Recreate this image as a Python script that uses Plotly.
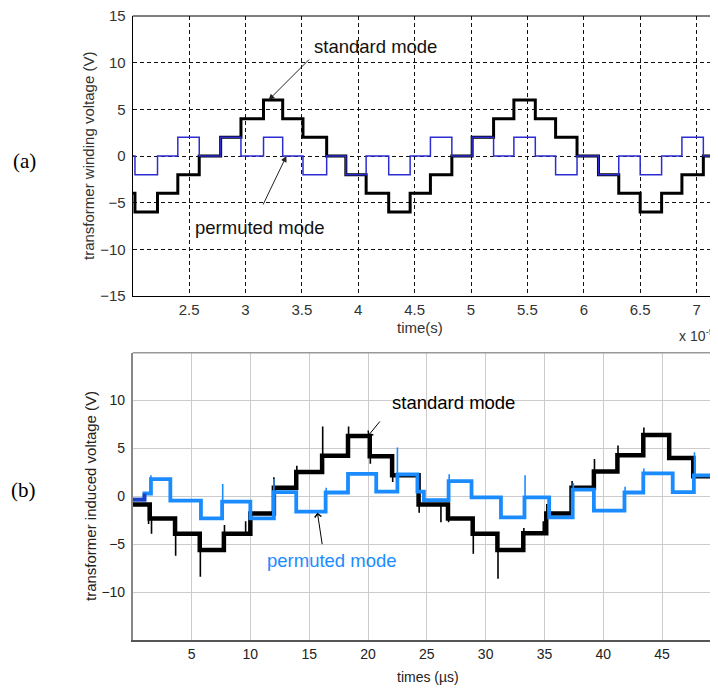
import plotly.graph_objects as go

# page has an 8px body margin: figure origin sits at page (8, 8)
OFF = 8
W, H = 718 - OFF, 688 - OFF

# ---------------- (a) simulation ----------------
a_step_t = [2.0, 2.02, 2.22, 2.40, 2.59, 2.78, 2.96, 3.16, 3.33, 3.51, 3.72, 3.89, 4.07,
            4.27, 4.46, 4.64, 4.83, 5.01, 5.20, 5.38, 5.57, 5.75, 5.94, 6.13, 6.31, 6.50,
            6.69, 6.87, 7.06]
a_standard = [-4, -6, -4, -2, 0, 2, 4, 6, 4, 2, 0, -2, -4,
              -6, -4, -2, 0, 2, 4, 6, 4, 2, 0, -2, -4, -6,
              -4, -2, 0]
a_permuted = [0, -2, 0, 2, 0, 2, 0, 2, 0, -2, 0, -2, 0,
              -2, 0, 2, 0, 2, 0, 2, 0, -2, 0, -2, 0, -2,
              0, 2, 0]
a_x_end = 7.19
a_xticks = [2.5, 3, 3.5, 4, 4.5, 5, 5.5, 6, 6.5, 7]
a_xticklabels = ["2.5", "3", "3.5", "4", "4.5", "5", "5.5", "6", "6.5", "7"]
a_yticks = [-15, -10, -5, 0, 5, 10, 15]

# ---------------- (b) measurement ----------------
b_std_t = [0.0, 1.45, 3.6, 5.7, 7.75, 10.0, 12.0, 13.9, 16.1, 18.3, 20.15, 22.05,
           24.3, 26.8, 28.9, 31.0, 33.2, 35.15, 37.3, 39.2, 41.2, 43.4, 45.6, 47.65, 49.5]
b_std_v = [-0.85, -2.3, -3.9, -5.6, -3.9, -1.8, 0.9, 2.55, 4.25, 6.3, 4.2, 2.2,
           -0.85, -2.3, -3.9, -5.6, -3.85, -1.8, 0.9, 2.6, 4.3, 6.4, 4.0, 2.1, -0.6]
b_std_spike_t = [1.35, 1.6, 3.65, 5.75, 7.8, 9.6, 10.05, 12.0, 13.95, 16.15, 18.35, 20.2,
                 22.1, 24.35, 26.2, 26.85, 28.95, 31.05, 33.25, 34.9, 35.2, 37.35, 39.25,
                 41.25, 43.45, 47.7]
b_std_spike_v = [-2.9, -3.9, -6.2, -8.4, -3.0, -2.6, -0.4, 2.0, 3.2, 7.3, 7.3, 3.4,
                 1.5, -1.7, -2.7, -2.7, -6.0, -8.6, -3.3, -2.6, -0.8, 1.6, 3.9,
                 5.3, 7.2, 1.5]

b_perm_t = [0.0, 1.0, 1.55, 3.2, 5.8, 7.6, 10.0, 12.0, 13.9, 16.4, 18.3, 20.7, 22.5,
            24.2, 24.75, 26.85, 28.8, 31.3, 33.3, 35.4, 37.4, 39.2, 41.8, 43.4, 45.9, 47.7]
b_perm_v = [-0.35, 0.3, 1.8, -0.45, -2.3, -0.55, -2.3, 0.45, -1.6, 0.4, 2.35, 0.5, 2.3,
            0.5, -0.4, 1.6, -0.1, -2.2, -0.1, -2.2, 0.7, -1.5, 0.4, 2.4, 0.45, 2.2]
b_perm_spike_t = [1.55, 7.65, 12.0, 16.45, 20.75, 22.5, 26.9, 28.85, 33.35, 37.45,
                  39.25, 41.85, 43.45, 47.75]
b_perm_spike_v = [2.2, 1.3, 1.8, 0.9, 0.9, 5.1, 2.3, 0.8, 2.2, 1.4,
                  -1.0, 1.0, 2.9, 4.6]
b_x_end = 49.75
b_xticks = [5, 10, 15, 20, 25, 30, 35, 40, 45]
b_yticks = [-10, -5, 0, 5, 10]

FONT = "Liberation Sans, Arial, sans-serif"
SERIF = "Liberation Serif, Times New Roman, serif"


def steps(t, v, t_end):
    return list(t) + [t_end], list(v) + [v[-1]]


def level_at(t, v, x):
    lv = v[0]
    for ti, vi in zip(t, v):
        if ti <= x:
            lv = vi
    return lv


def spikes(t, v, st, sv):
    xs, ys = [], []
    for x, y in zip(st, sv):
        xs += [x, x, None]
        ys += [level_at(t, v, x), y, None]
    return xs, ys


fig = go.Figure()

# (a)
x, y = steps(a_step_t, a_standard, a_x_end)
fig.add_trace(go.Scatter(x=x, y=y, mode="lines", line=dict(color="black", width=3, shape="hv"),
                         xaxis="x", yaxis="y", showlegend=False))
x, y = steps(a_step_t, a_permuted, a_x_end)
fig.add_trace(go.Scatter(x=x, y=y, mode="lines", line=dict(color="#2c2cd2", width=1.5, shape="hv"),
                         xaxis="x", yaxis="y", showlegend=False))

# (b)
x, y = steps(b_std_t, b_std_v, b_x_end)
fig.add_trace(go.Scatter(x=x, y=y, mode="lines", line=dict(color="black", width=4.5, shape="hv"),
                         xaxis="x2", yaxis="y2", showlegend=False))
sx, sy = spikes(b_std_t, b_std_v, b_std_spike_t, b_std_spike_v)
fig.add_trace(go.Scatter(x=sx, y=sy, mode="lines", line=dict(color="black", width=1.6),
                         xaxis="x2", yaxis="y2", showlegend=False))
x, y = steps(b_perm_t, b_perm_v, b_x_end)
fig.add_trace(go.Scatter(x=x, y=y, mode="lines", line=dict(color="#1a8cff", width=3.8, shape="hv"),
                         xaxis="x2", yaxis="y2", showlegend=False))
fig.add_trace(go.Scatter(x=x[:2], y=y[:2], mode="lines", line=dict(color="#1c3fc4", width=3.8, shape="hv"),
                         xaxis="x2", yaxis="y2", showlegend=False))
sx, sy = spikes(b_perm_t, b_perm_v, b_perm_spike_t, b_perm_spike_v)
fig.add_trace(go.Scatter(x=sx, y=sy, mode="lines", line=dict(color="#1a8cff", width=1.6),
                         xaxis="x2", yaxis="y2", showlegend=False))


def px(p):
    return (p - OFF) / W


def py(p):
    return 1 - (p - OFF) / H


X0 = 132.7
a_top, a_bot = 16, 296
b_top, b_bot = 352.7, 640

fig.update_layout(
    width=W, height=H,
    margin=dict(l=0, r=0, t=0, b=0),
    paper_bgcolor="white", plot_bgcolor="white",
    font=dict(family=FONT, color="#222"),
    xaxis=dict(domain=[px(X0), 1], anchor="y", range=[2.0, a_x_end],
               tickvals=a_xticks, ticktext=a_xticklabels, showgrid=True,
               gridcolor="#111", griddash="4px,3px", gridwidth=1, zeroline=False,
               showline=True, linecolor="black", linewidth=1, ticks="",
               tickfont=dict(size=15, color="#333"), automargin=False),
    yaxis=dict(domain=[py(a_bot), py(a_top)], anchor="x", range=[-15, 15],
               tickvals=a_yticks, showgrid=True, gridcolor="#111", griddash="4px,3px",
               gridwidth=1, zeroline=False, showline=True, linecolor="black", linewidth=1,
               ticks="", ticklabelstandoff=3, ticklabeloverflow="allow",
               tickfont=dict(size=15, color="#333"), automargin=False),
    xaxis2=dict(domain=[px(X0), 1], anchor="y2", range=[0, b_x_end],
                tickvals=b_xticks, showgrid=True, gridcolor="#cccccc", gridwidth=1,
                zeroline=False, showline=True, linecolor="#555", linewidth=2, ticks="",
                tickfont=dict(size=14, color="#222"), automargin=False),
    yaxis2=dict(domain=[py(b_bot), py(b_top)], anchor="x2", range=[-15, 15],
                tickvals=b_yticks, showgrid=True, gridcolor="#cccccc", gridwidth=1,
                zeroline=False, showline=True, linecolor="#888", linewidth=1.5, ticks="",
                ticklabelstandoff=3, tickfont=dict(size=14, color="#222"), automargin=False),
)

shapes = [
    dict(type="line", xref="paper", yref="paper", x0=px(X0), x1=1, y0=py(a_top), y1=py(a_top),
         line=dict(color="black", width=1)),
    dict(type="line", xref="paper", yref="paper", x0=px(X0), x1=1, y0=py(b_top), y1=py(b_top),
         line=dict(color="#999", width=1.5)),
    dict(type="rect", xref="paper", yref="paper", x0=px(385), x1=px(536), y0=py(420), y1=py(383),
         fillcolor="white", line=dict(width=0), layer="between"),
]
fig.update_layout(shapes=shapes)


def label(text, x, y, size, color="#222", family=FONT, angle=0, xanchor="center"):
    return dict(text=text, x=px(x), y=py(y), xref="paper", yref="paper", showarrow=False,
                xanchor=xanchor, yanchor="middle", textangle=angle,
                font=dict(family=family, size=size, color=color))


ann = []
ann.append(label("(a)", 24, 161, 21, "black", SERIF))
ann.append(label("(b)", 23, 490, 21, "black", SERIF))
ann.append(label("transformer winding voltage (V)", 88, 156, 15, "#333", angle=-90))
ann.append(label("time(s)", 420, 327, 15, "#333"))
ann.append(label("x 10<sup>-5</sup>", 677, 335, 14, "#333", xanchor="left"))
ann.append(label("transformer induced voltage (V)", 90, 496, 15, "#222", angle=-90))
ann.append(label("times (µs)", 428, 677, 14, "#222"))
ann.append(label("standard mode", 375, 46, 18.5, "#111"))
ann.append(label("permuted mode", 260, 228, 18.5, "#111"))
ann.append(label("standard mode", 390, 402, 18.5, "black", xanchor="left"))
ann.append(label("permuted mode", 332, 560, 18.5, "#1a8cff"))

# arrows
ann.append(dict(text="", x=3.205, y=6.0, xref="x", yref="y", ax=42, ay=-42, showarrow=True,
                arrowhead=2, arrowsize=1.2, arrowwidth=1, arrowcolor="#222"))
ann.append(dict(text="", x=3.363, y=0.0, xref="x", yref="y", ax=-24, ay=50, showarrow=True,
                arrowhead=2, arrowsize=1.2, arrowwidth=1, arrowcolor="#222"))
ann.append(dict(text="", x=20.0, y=6.3, xref="x2", yref="y2", ax=13, ay=-16, showarrow=True,
                arrowhead=4, arrowsize=1.3, arrowwidth=1, arrowcolor="black"))
ann.append(dict(text="", x=15.7, y=-1.7, xref="x2", yref="y2", ax=5, ay=33, showarrow=True,
                arrowhead=4, arrowsize=1.3, arrowwidth=1, arrowcolor="black"))
fig.update_layout(annotations=ann)

fig.write_html("out.html")
